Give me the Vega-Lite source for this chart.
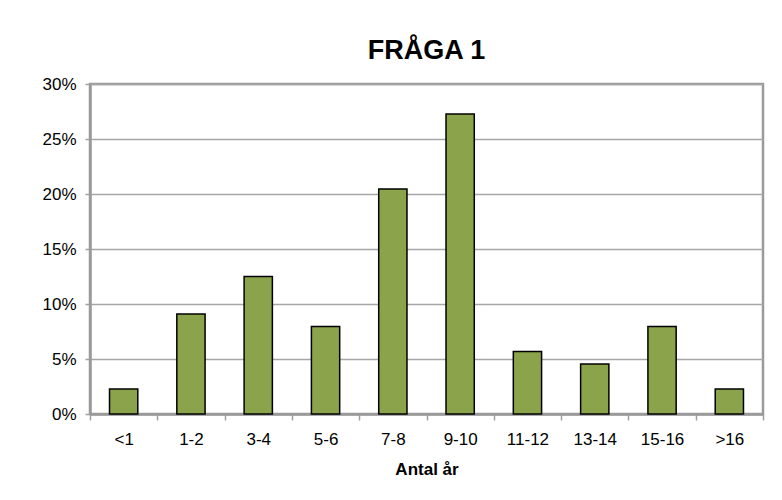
{
  "$schema": "https://vega.github.io/schema/vega-lite/v6.json",
  "width": 673,
  "height": 330,
  "autosize": {"type": "none"},
  "padding": {"left": 90, "top": 84, "right": 19, "bottom": 86},
  "background": "white",
  "title": {
    "text": "FRÅGA 1",
    "font": "Liberation Sans",
    "fontSize": 27,
    "fontWeight": "bold",
    "color": "black",
    "anchor": "middle",
    "offset": 10
  },
  "data": {
    "values": [
      {"group": "<1", "share": 0.0227},
      {"group": "1-2", "share": 0.0909},
      {"group": "3-4", "share": 0.125},
      {"group": "5-6", "share": 0.0795},
      {"group": "7-8", "share": 0.2045},
      {"group": "9-10", "share": 0.2727},
      {"group": "11-12", "share": 0.0568},
      {"group": "13-14", "share": 0.0455},
      {"group": "15-16", "share": 0.0795},
      {"group": ">16", "share": 0.0227}
    ]
  },
  "mark": {
    "type": "bar",
    "fill": "#8BA34A",
    "stroke": "black",
    "strokeWidth": 1.5,
    "width": {"band": 0.42}
  },
  "encoding": {
    "x": {
      "field": "group",
      "type": "nominal",
      "sort": null,
      "scale": {"paddingInner": 0, "paddingOuter": 0},
      "axis": {
        "title": "Antal år",
        "titleFont": "Liberation Sans",
        "titleFontSize": 17,
        "titleFontWeight": "bold",
        "titleColor": "black",
        "titlePadding": 14,
        "labelFont": "Liberation Sans",
        "labelFontSize": 17,
        "labelColor": "black",
        "labelAngle": 0,
        "labelPadding": 11,
        "tickBand": "extent",
        "tickColor": "#a0a0a0",
        "tickWidth": 1.5,
        "tickSize": 6,
        "domainColor": "#9a9a9a",
        "domainWidth": 2.5
      }
    },
    "y": {
      "field": "share",
      "type": "quantitative",
      "scale": {"domain": [0, 0.3], "nice": false},
      "axis": {
        "title": null,
        "format": ".0%",
        "values": [0, 0.05, 0.1, 0.15, 0.2, 0.25, 0.3],
        "labelFont": "Liberation Sans",
        "labelFontSize": 17,
        "labelColor": "black",
        "labelPadding": 9,
        "tickColor": "#a0a0a0",
        "tickWidth": 1.5,
        "tickSize": 5,
        "domainColor": "#9a9a9a",
        "domainWidth": 2.5,
        "grid": true,
        "gridColor": "#a6a6a6",
        "gridWidth": 1.5
      }
    }
  },
  "config": {
    "view": {"stroke": "#9a9a9a", "strokeWidth": 2.5}
  }
}
